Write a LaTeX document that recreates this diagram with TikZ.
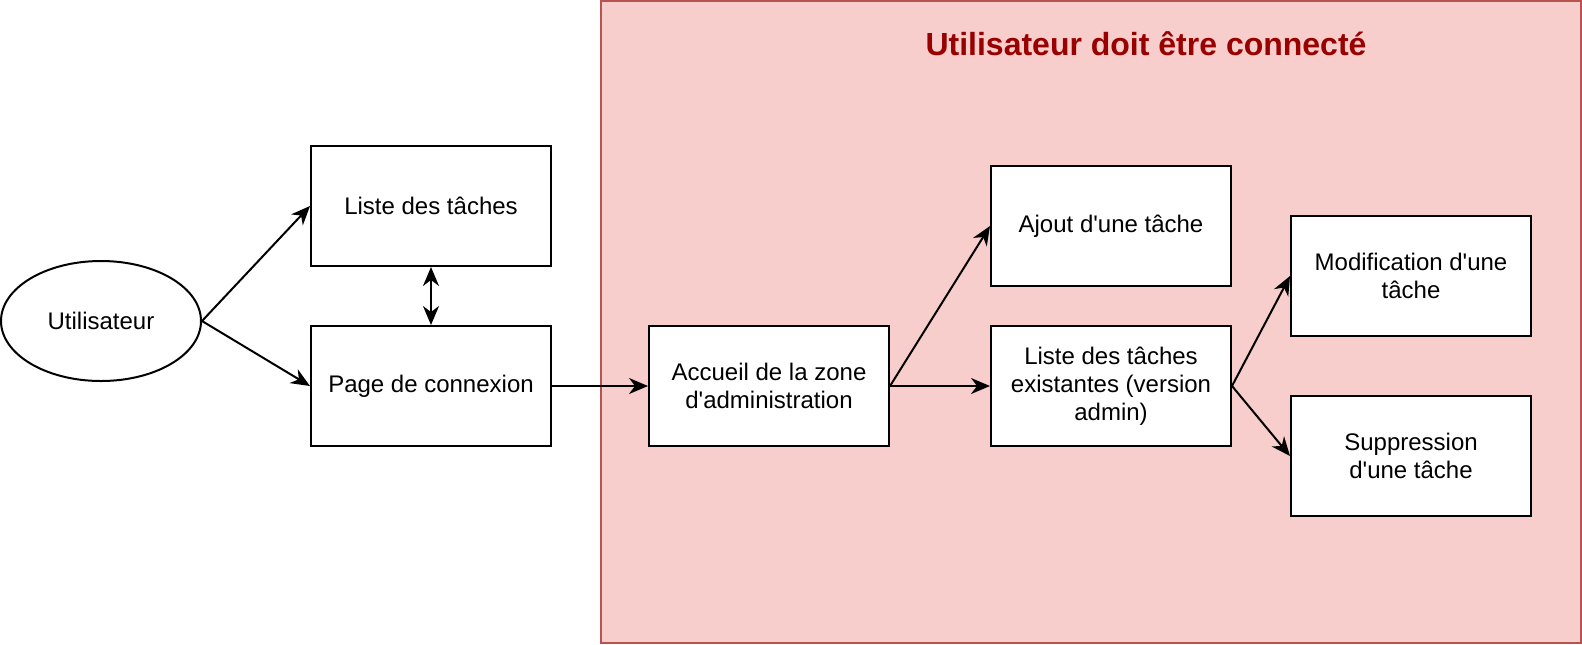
\documentclass[tikz,border=0pt]{standalone}
\usepackage{fontspec}
\newfontfamily\drawfont{Liberation Sans}
\usetikzlibrary{arrows.meta,positioning,shapes.geometric}

\definecolor{zonefill}{HTML}{F8CECC}
\definecolor{zonedraw}{HTML}{B85450}
\definecolor{zonetitle}{HTML}{990000}

\begin{document}
\begin{tikzpicture}[
  x=0.5pt, y=-0.5pt,
  every node/.style={font=\drawfont\fontsize{12}{14}\selectfont},
  tip/.style={Stealth[length=9.5pt,width=8pt,inset=3pt]},
  line/.style={draw, line width=1pt, -{Stealth[length=9.5pt,width=8pt,inset=3pt]}},
  box/.style={rectangle, draw, line width=1pt, align=center, fill=white,
              minimum width=120pt, minimum height=60pt, inner sep=2pt},
  userbox/.style={ellipse, draw, line width=1pt, fill=white,
              minimum width=100pt, minimum height=60pt, inner sep=0pt},
  zone/.style={draw=zonedraw, fill=zonefill, line width=1pt}
]
\useasboundingbox (0,0) rectangle (1582,644);

% =======================================================
%                     ZONE ADMIN
% =======================================================
\draw[zone] (601,1) rectangle (1581,643);
\node[font=\drawfont\bfseries\fontsize{16}{19}\selectfont, text=zonetitle] (zonetitle) at (1146,44) {Utilisateur doit être connecté};

% =======================================================
%                     MAIN COMPONENTS
% =======================================================
\node[userbox] (user) at (101,321) {Utilisateur};
\node[box] (liste) at (431,206) {Liste des tâches};
\node[box] (connexion) at (431,386) {Page de connexion};
\node[box, right=48pt of connexion] (accueil) {Accueil de la zone\\d'administration};

% Admin side
\node[box] (ajout) at (1111,226) {Ajout d'une tâche};
\node[box] (listeadmin) at (1111,386) {Liste des tâches\\existantes (version\\admin)};
\node[box] (modif) at (1411,276) {Modification d'une\\tâche};
\node[box] (suppr) at (1411,456) {Suppression\\d'une tâche};

% =======================================================
%                     CONNECTIONS
% =======================================================
\draw[line] (user.east) -- (liste.west);
\draw[line] (user.east) -- (connexion.west);
\draw[line, {Stealth[length=9.5pt,width=8pt,inset=3pt]}-{Stealth[length=9.5pt,width=8pt,inset=3pt]}] (liste.south) -- (connexion.north);
\draw[line] (connexion.east) -- (accueil.west);

% Accueil -> pages admin
\draw[line] (accueil.east) -- (ajout.west);
\draw[line] (accueil.east) -- (listeadmin.west);
\draw[line] (listeadmin.east) -- (modif.west);
\draw[line] (listeadmin.east) -- (suppr.west);

\end{tikzpicture}
\end{document}
